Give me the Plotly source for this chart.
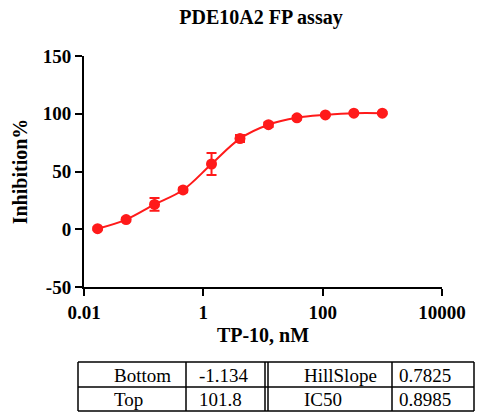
import plotly.graph_objects as go

# ---- data ----
conc_nM = [0.0169, 0.0508, 0.152, 0.457, 1.372, 4.115, 12.35, 37.04, 111.1, 333.3, 1000]
inhibition = [0.5, 8.4, 21.5, 34, 56.5, 78.5, 90.5, 96.5, 99, 100.5, 100.5]
error = [1, 1.5, 5.5, 2, 9.5, 3, 2, 1.5, 1, 1, 1]

x_ticks = [0.01, 1, 100, 10000]
x_tick_labels = ["0.01", "1", "100", "10000"]
y_ticks = [-50, 0, 50, 100, 150]
y_tick_labels = ["-50", "0", "50", "100", "150"]

table_rows = [["Bottom", "-1.134", "HillSlope", "0.7825"],
              ["Top", "101.8", "IC50", "0.8985"]]

# ---- layout geometry (pixels) ----
W, H = 500, 420
L, R, T, B = 84, 58, 56, 133
PW, PH = W - L - R, H - T - B

def px(xp):
    return (xp - L) / PW

def py(yp):
    return (H - B - yp) / PH

FONT = "Liberation Serif"
RED = "#ff1a1a"

fig = go.Figure()
fig.add_trace(go.Scatter(
    x=conc_nM, y=inhibition, mode="lines+markers",
    line=dict(color=RED, width=2, shape="spline", smoothing=1.0),
    marker=dict(color=RED, size=11),
    error_y=dict(type="data", array=error, color=RED, thickness=2, width=5),
    showlegend=False,
))

shapes = []
tx0, tx1 = 78, 474
ty0, ty1, tym = 362, 411, 387
def seg(x0, y0, x1, y1, w=1.5):
    shapes.append(dict(type="line", xref="paper", yref="paper",
                       x0=px(x0), y0=py(y0), x1=px(x1), y1=py(y1),
                       line=dict(color="black", width=w)))
seg(tx0, ty0, tx1, ty0)
seg(tx0, ty1, tx1, ty1)
seg(tx0, ty0, tx0, ty1)
seg(tx1, ty0, tx1, ty1)
seg(tx0, tym, tx1, tym)
for xv in (186, 265, 268, 392):
    seg(xv, ty0, xv, ty1)

annotations = []
col_x = [112, 197, 302, 397]
row_y = [375, 399]
for r, row in enumerate(table_rows):
    for c, txt in enumerate(row):
        annotations.append(dict(
            text=txt, xref="paper", yref="paper", x=px(col_x[c]), y=py(row_y[r]),
            xanchor="left", yanchor="middle", showarrow=False,
            font=dict(family=FONT, size=19, color="black")))

tick_font = dict(family=FONT, size=19, color="black", weight="bold")
title_font = dict(family=FONT, size=20, color="black", weight="bold")

fig.update_layout(
    width=W, height=H,
    margin=dict(l=L, r=R, t=T, b=B),
    paper_bgcolor="white", plot_bgcolor="white",
    title=dict(text="PDE10A2 FP assay", x=261 / W, xanchor="center",
               y=1 - 17 / H, yanchor="middle", font=title_font),
    xaxis=dict(type="log", range=[-2, 4], tickvals=x_ticks, ticktext=x_tick_labels,
               showline=True, linecolor="black", linewidth=2,
               ticks="outside", ticklen=7, tickwidth=2, tickcolor="black",
               showgrid=False, zeroline=False, automargin=False,
               tickfont=tick_font,
               title=dict(text="TP-10, nM", standoff=6, font=title_font)),
    yaxis=dict(range=[-50, 150], tickvals=y_ticks, ticktext=y_tick_labels,
               showline=True, linecolor="black", linewidth=2,
               ticks="outside", ticklen=7, tickwidth=2, tickcolor="black",
               showgrid=False, zeroline=False, automargin=False,
               tickfont=tick_font,
               title=dict(text="Inhibition%", standoff=10, font=title_font)),
    shapes=shapes, annotations=annotations,
)

fig.write_html("out.html", config={"displayModeBar": False},
               post_script="document.body.style.margin='0';")
